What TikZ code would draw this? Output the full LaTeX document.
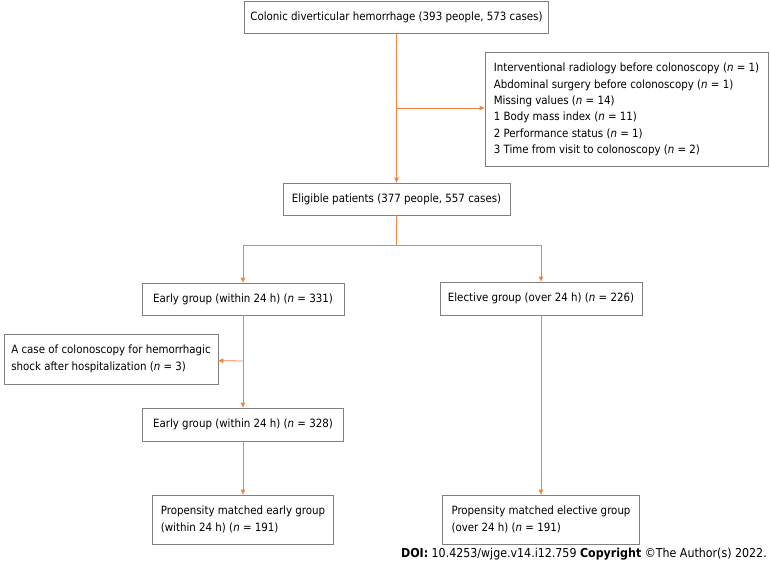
\documentclass[tikz,border=0pt]{standalone}
\usepackage{fontspec}
\setmainfont{DejaVu Sans Condensed}
\usepackage{xcolor}
\usepackage{tikz}
\usetikzlibrary{shapes,arrows.meta,positioning,calc}

\definecolor{flowline}{RGB}{240,132,66}
\definecolor{boxgray}{RGB}{128,128,128}

\begin{document}
\begin{tikzpicture}[
    x=1pt, y=-1pt,
    font=\fontsize{11.4}{16.4}\selectfont,
    box/.style={rectangle, draw=boxgray, line width=0.8pt, align=left, inner xsep=6pt, inner ysep=0pt},
    arrow/.style={-{Triangle[length=5pt,width=4.5pt]}, draw=flowline, line width=0.8pt},
    link/.style={draw=flowline, line width=0.8pt}
]
    \useasboundingbox (0,0) rectangle (770,565);

    % main column
    \node [box, minimum width=303pt, minimum height=32pt] (start) at (396.5,17) {Colonic diverticular hemorrhage (393 people, 573 cases)};
    \node [box, minimum width=283pt, minimum height=114pt] (excl1) at (626.5,109.5) {Interventional radiology before colonoscopy (\textit{n} = 1)\\Abdominal surgery before colonoscopy (\textit{n} = 1)\\Missing values (\textit{n} = 14)\\1 Body mass index (\textit{n} = 11)\\2 Performance status (\textit{n} = 1)\\3 Time from visit to colonoscopy (\textit{n} = 2)};
    \node [box, minimum width=227pt, minimum height=32pt] (elig) at (396.5,199) {Eligible patients (377 people, 557 cases)};

    % two groups
    \node [box, minimum width=202pt, minimum height=32pt] (early) at (243,299) {Early group (within 24 h) (\textit{n} = 331)};
    \node [box, minimum width=202pt, minimum height=33pt] (elective) at (541,298.5) {Elective group (over 24 h) (\textit{n} = 226)};
    \node [box, inner xsep=5pt, minimum width=214pt, minimum height=50pt] (excl2) at (111,359) {A case of colonoscopy for hemorrhagic\\shock after hospitalization (\textit{n} = 3)};
    \node [box, minimum width=201pt, minimum height=33pt] (early2) at (243,424.5) {Early group (within 24 h) (\textit{n} = 328)};

    % matched groups
    \node [box, minimum width=181pt, minimum height=49pt] (matchE) at (243,519.5) {Propensity matched early group\\(within 24 h) (\textit{n} = 191)};
    \node [box, minimum width=197pt, minimum height=49pt] (matchL) at (541,519.5) {Propensity matched elective group\\(over 24 h) (\textit{n} = 191)};

    \node [anchor=east, inner sep=0pt, font=\fontsize{12.3}{14}\selectfont] (doi) at (767,554) {\textbf{DOI:} 10.4253/wjge.v14.i12.759 \textbf{Copyright} ©The Author(s) 2022.};

    \coordinate (cut1) at (396.5,108);
    \coordinate (split) at (396.5,245);
    \coordinate (cut2) at (243,361);

    \draw [arrow] (start) -- (elig);
    \draw [arrow] (cut1) -- (cut1 -| excl1.west);
    \draw [link] (elig) -- (split);
    \draw [arrow] (split) -| (early);
    \draw [arrow] (split) -| (elective);
    \draw [arrow] (early) -- (early2);
    \draw [arrow] (cut2) -- (excl2);
    \draw [arrow] (early2) -- (matchE);
    \draw [arrow] (elective) -- (matchL);
\end{tikzpicture}
\end{document}
